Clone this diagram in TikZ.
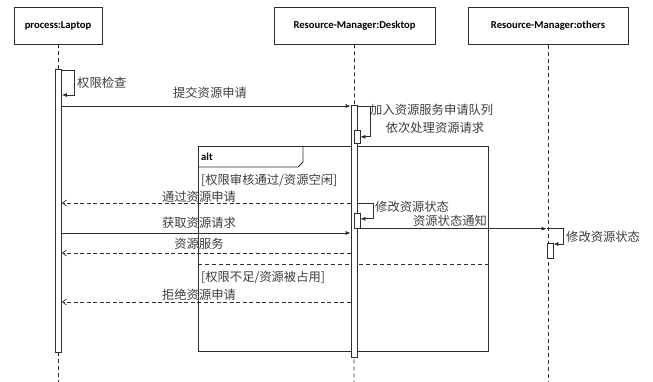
\documentclass[tikz,border=0pt]{standalone}
\usepackage{fontspec}
\setmainfont{Carlito}
\newfontfamily\zh{Noto Sans CJK SC}
\usepackage{tikz}
\usetikzlibrary{positioning, arrows.meta}
\definecolor{tinta}{RGB}{45, 45, 45}
\definecolor{texto}{RGB}{60, 60, 60}
\tikzset{
    head/.style={draw=tinta, fill=white, line width=0.8pt, minimum height=37pt, inner sep=0pt, font=\bfseries\fontsize{10.6}{12}\selectfont},
    bar/.style={draw=tinta, fill=white, line width=0.7pt, minimum width=6pt, inner sep=0pt},
    life/.style={tinta, dashed, dash pattern=on 4pt off 3pt, line width=0.7pt},
    msg/.style={tinta, line width=0.7pt, -{Latex[length=5pt, width=4pt]}},
    ret/.style={tinta, line width=0.7pt, dash pattern=on 4pt off 2.5pt, -{Straight Barb[length=4pt, width=6pt]}},
    lbl/.style={text=texto, inner sep=0pt, font=\zh\fontsize{12.3}{14}\selectfont},
}

\begin{document}
\begin{tikzpicture}[x=1pt, y=-1pt]
    \useasboundingbox (0,0) rectangle (653,382);

    % heads
    \node [head, minimum width=88pt] (lap) at (58,25.5) {process:Laptop};
    \node [head, minimum width=161pt] (desk) at (354.5,25.5) {Resource-Manager:Desktop};
    \node [head, minimum width=160pt] (oth) at (548,26) {Resource-Manager:others};

    % lifelines
    \draw[life] (lap.south) -- (58,382);
    \draw[life] (desk.south) -- (354,382);
    \draw[life] (oth.south) -- (548,382);

    % alt frame
    \node [draw=tinta, line width=0.8pt, minimum width=290pt, minimum height=205pt, inner sep=0pt, anchor=north west] (alt) at (198,146) {};
    \draw[tinta, line width=0.8pt] (alt.north west) ++(105,0) -- ++(0,16) -- ++(-5,5) -- (alt.west |- 0,167);
    \node [anchor=west, inner sep=0pt, font=\bfseries\fontsize{10.6}{12}\selectfont] (altname) at (201,157) {alt};
    \draw[life] (alt.west |- 0,264) -- (alt.east |- 0,264);
    \node [lbl, anchor=west] (g1) at (201,180) {[权限审核通过/资源空闲]};
    \node [lbl, anchor=west] (g2) at (201,277) {[权限不足/资源被占用]};

    % activations
    \node [bar, minimum height=283pt, anchor=north] (lapbar) at (58.5,69) {};
    \node [bar, minimum height=252pt, anchor=north] (deskbar) at (354,105) {};
    \node [bar, minimum height=13pt, anchor=north] (deskq) at (357,130) {};
    \node [bar, minimum height=15pt, anchor=north] (deskst) at (357,213) {};
    \node [bar, minimum height=15pt, anchor=north] (othst) at (550,243) {};

    \coordinate (y1) at (0,70);
    \coordinate (y2) at (0,95);
    \coordinate (y3) at (0,106);
    \coordinate (y4) at (0,203);
    \coordinate (y5) at (0,233);
    \coordinate (y6) at (0,253);
    \coordinate (y7) at (0,302);

    % messages
    \draw[msg] (lapbar.east |- y1) -- ++(12,0) |- (lapbar.east |- y2);
    \node [lbl, anchor=west] (chk) at (77,83) {权限检查};

    \draw[msg] (lapbar.east |- y3) -- (deskbar.west |- y3);
    \node [lbl] (sub) at (210,93) {提交资源申请};

    \draw[msg] (deskbar.east |- y3) -- ++(13,0) |- (deskq.east);
    \node [lbl, anchor=west] (que) at (370,110) {加入资源服务申请队列};
    \node [lbl] (seq) at (435,128) {依次处理资源请求};

    \draw[ret] (deskbar.west |- y4) -- (lapbar.east |- y4);
    \node [lbl] (ok) at (199,197) {通过资源申请};

    \draw[msg] (deskbar.east |- y4) -- ++(16,0) |- ([yshift=2pt]deskst.east);
    \node [lbl, anchor=west] (mod1) at (375,207) {修改资源状态};

    \draw[msg] (lapbar.east |- y5) -- (deskbar.west |- y5);
    \node [lbl] (get) at (199,223) {获取资源请求};

    \draw[msg] (deskst.south east) -- (othst.west |- deskst.south);
    \node [lbl] (notif) at (450,221) {资源状态通知};

    \draw[msg] (othst.west |- deskst.south) -- ++(17,0) |- ([yshift=-1pt]othst.north east);
    \node [lbl, anchor=west] (mod2) at (566,237) {修改资源状态};

    \draw[ret] (deskbar.west |- y6) -- (lapbar.east |- y6);
    \node [lbl] (srv) at (199,244) {资源服务};

    \draw[ret] (deskbar.west |- y7) -- (lapbar.east |- y7);
    \node [lbl] (rej) at (199,295) {拒绝资源申请};
\end{tikzpicture}
\end{document}
